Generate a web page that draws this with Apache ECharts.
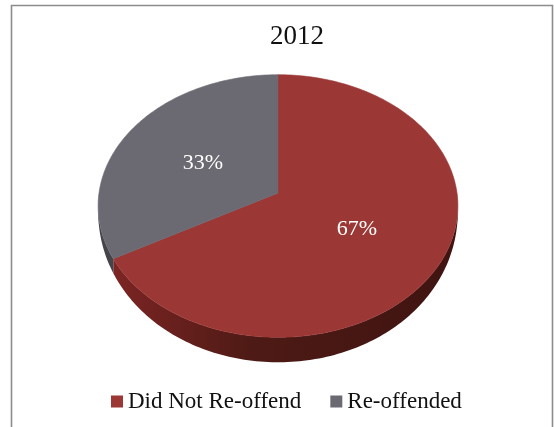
<!DOCTYPE html>
<html>
<head>
<meta charset="utf-8">
<style>html,body{margin:0;padding:0;background:#fff}#chart{width:554px;height:427px}</style>
<script src="https://cdn.jsdelivr.net/npm/echarts@6/dist/echarts.min.js"></script>
</head>
<body>
<div id="chart"></div>
<script>
const chartTitle = '2012';
const categories = ['Did Not Re-offend', 'Re-offended'];
const shares = [67, 33];
const topColors = ['#9b3735', '#6b6a72'];
const wallColors = [
  new echarts.graphic.LinearGradient(0, 0, 1, 0, [
    {offset: 0, color: '#7c2524'},
    {offset: 0.4, color: '#4e1a15'},
    {offset: 1, color: '#3f1411'}
  ]),
  '#45444b'
];

// Tilted disc: apex, radii, perspective strength and wall height, in pixels.
const apexX = 278, apexY = 193, radiusX = 179, radiusY = 130, tilt = 0.099, wallDepth = 25;
const serif = '"Liberation Serif", "Times New Roman", serif';
const total = shares.reduce((a, b) => a + b, 0);

// Clockwise angle from twelve o'clock where slice i begins.
function startAngle(i) {
  return shares.slice(0, i).reduce((a, b) => a + b, 0) / total * Math.PI * 2;
}

// Projects a point of the flat disc into the tilted view.
function project(angle, frac) {
  const w = 1 + tilt * frac * Math.cos(angle);
  return [
    apexX + radiusX * frac * Math.sin(angle) / w,
    apexY - radiusY * frac * Math.cos(angle) / w
  ];
}

// The wall is tallest at six o'clock and fades out towards the sides.
function wallDrop(angle) {
  return wallDepth * Math.pow(Math.max(0, -Math.cos(angle)), 0.75);
}

function rimAngles(a0, a1) {
  const n = Math.max(2, Math.ceil((a1 - a0) / 0.02));
  const out = [];
  for (let k = 0; k <= n; k++) out.push(a0 + (a1 - a0) * k / n);
  return out;
}

// Slice surface with its percentage at mid radius.
function renderTop(i) {
  return function (params, api) {
    const a0 = startAngle(i);
    const a1 = a0 + api.value(0) / total * Math.PI * 2;
    const mid = project((a0 + a1) / 2, 0.5);
    const rim = rimAngles(a0, a1).map(a => project(a, 1));
    return {
      type: 'group',
      children: [
        {
          type: 'polygon',
          shape: {points: [project(0, 0)].concat(rim)},
          style: {fill: topColors[i], stroke: topColors[i], lineWidth: 0.6}
        },
        {
          type: 'text',
          x: mid[0],
          y: mid[1] + 2,
          style: {
            text: api.value(0) + '%',
            fill: '#ffffff',
            font: '22px ' + serif,
            align: 'center',
            verticalAlign: 'middle'
          }
        }
      ]
    };
  };
}

// Outer wall of every slice, drawn below the surfaces.
function renderWall(params, api) {
  const i = params.dataIndex;
  const a0 = startAngle(i);
  const a1 = a0 + api.value(0) / total * Math.PI * 2;
  const angles = rimAngles(a0, a1);
  const outer = angles.map(a => project(a, 1));
  const lower = angles.slice().reverse().map(a => {
    const p = project(a, 1);
    return [p[0], p[1] + wallDrop(a)];
  });
  return {
    type: 'polygon',
    shape: {points: outer.concat(lower)},
    style: {fill: wallColors[i]}
  };
}

const chart = echarts.init(document.getElementById('chart'), null, {renderer: 'canvas'});
chart.setOption({
  animation: false,
  backgroundColor: '#ffffff',
  title: {
    text: chartTitle,
    left: 297,
    top: 23,
    padding: 0,
    textAlign: 'center',
    textStyle: {fontFamily: serif, fontSize: 27, fontWeight: 'normal', color: '#111111'}
  },
  legend: {
    data: categories,
    left: 111,
    top: 390,
    padding: 0,
    icon: 'rect',
    itemWidth: 12,
    itemHeight: 12,
    itemGap: 29,
    selectedMode: false,
    textStyle: {fontFamily: serif, fontSize: 23, color: '#111111'}
  },
  graphic: [{
    type: 'polyline',
    silent: true,
    shape: {points: [[11.5, 427], [11.5, 5.5], [552.5, 5.5], [552.5, 427]]},
    style: {fill: 'none', stroke: '#8c8c8c', lineWidth: 1.6}
  }],
  series: [
    {
      type: 'custom',
      name: 'wall',
      coordinateSystem: 'none',
      silent: true,
      z: 1,
      data: shares.map(v => [v]),
      renderItem: renderWall
    },
    ...categories.map((name, i) => ({
      type: 'custom',
      name: name,
      coordinateSystem: 'none',
      silent: true,
      z: 2,
      itemStyle: {color: topColors[i]},
      data: [[shares[i]]],
      renderItem: renderTop(i)
    }))
  ]
});
</script>
</body>
</html>
